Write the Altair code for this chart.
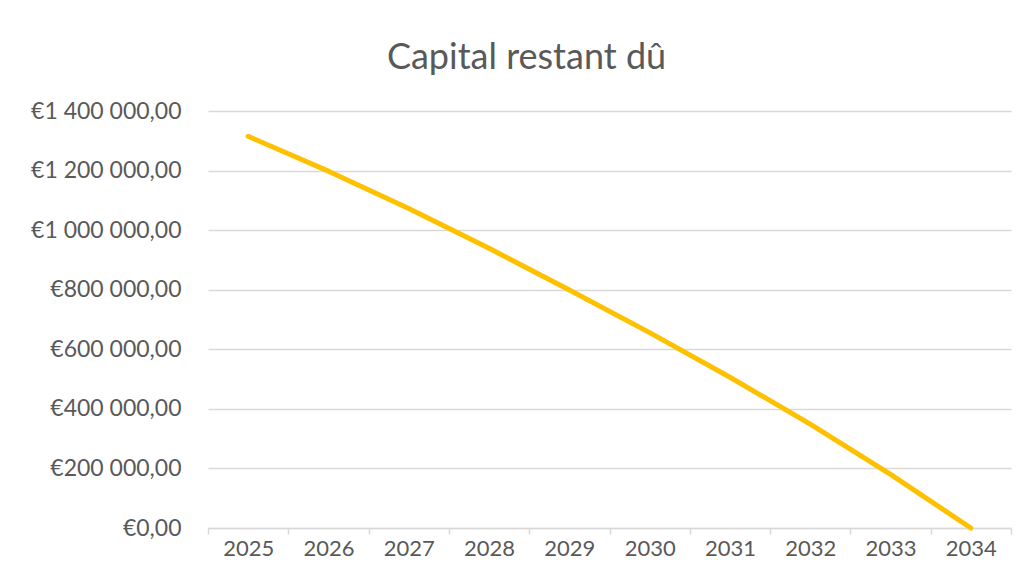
import altair as alt
import pandas as pd

years = ["2025", "2026", "2027", "2028", "2029", "2030", "2031", "2032", "2033", "2034"]
capital = [1315000, 1198000, 1073000, 939000, 799000, 656000, 506000, 349000, 180000, 0]
y_ticks = [0, 200000, 400000, 600000, 800000, 1000000, 1200000, 1400000]
title_text = "Capital restant dû"

df = pd.DataFrame({"year": years, "capital": capital})

FONT = "Lato"
TXT = "#595959"
GRID = "#d9d9d9"

line = alt.Chart(df).mark_line(
    color="#FFC000", strokeWidth=5, strokeCap="round", strokeJoin="round"
).encode(
    x=alt.X(
        "year:O",
        bandPosition=0.5,
        scale=alt.Scale(type="band", domain=years, paddingInner=0, paddingOuter=0),
        axis=alt.Axis(
            title=None, labelAngle=0, grid=False, tickBand="extent",
            domainColor=GRID, domainWidth=1.5, tickColor=GRID, tickWidth=1.5,
            tickSize=6, labelFontSize=22, labelFont=FONT, labelColor=TXT,
            labelPadding=4,
        ),
    ),
    y=alt.Y(
        "capital:Q",
        scale=alt.Scale(domain=[0, 1400000], nice=False, zero=True),
        axis=alt.Axis(
            title=None, values=y_ticks, format="$,.2f", ticks=False, domain=False,
            grid=True, gridColor=GRID, gridWidth=1.5, labelFontSize=23,
            labelFont=FONT, labelColor=TXT, labelPadding=27,
        ),
    ),
)

chart = line.properties(
    width=803,
    height=417,
    title=alt.TitleParams(
        text=title_text, font=FONT, fontSize=36, fontWeight="normal", color=TXT,
        anchor="middle", dx=-83, dy=9, offset=4, baseline="alphabetic",
    ),
    autosize=alt.AutoSizeParams(type="none"),
    padding={"left": 200, "top": 103, "right": 6, "bottom": 46},
).configure(
    locale=alt.Locale(
        number=alt.NumberLocale(
            decimal=",", thousands=" ", grouping=[3], currency=["€", ""]
        )
    ),
).configure_view(stroke=None)

chart.save("out.html", embed_options={"renderer": "svg", "actions": False})
